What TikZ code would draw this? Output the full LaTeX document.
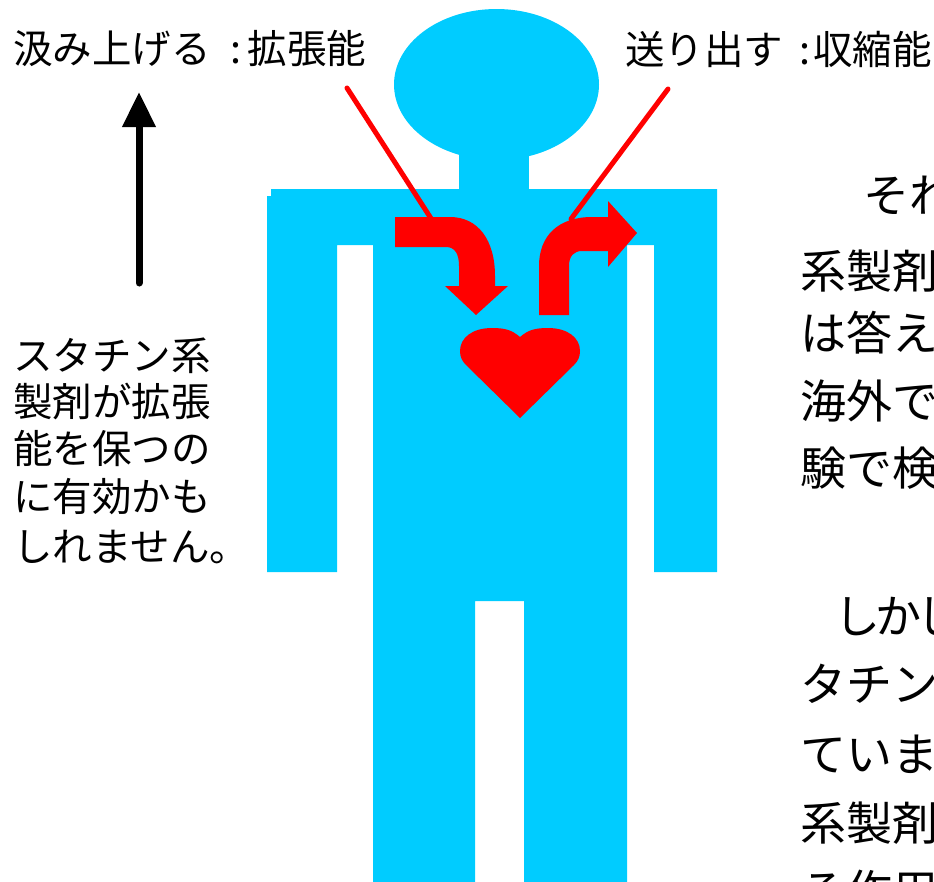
\documentclass[tikz,border=0pt]{standalone}
\usepackage{fontspec}
\newfontfamily\jpfont{Noto Sans CJK JP}
\usetikzlibrary{arrows.meta}
\definecolor{bodyblue}{HTML}{00CCFF}
\definecolor{heartred}{HTML}{FF0000}

\begin{document}
\begin{tikzpicture}[x=1pt,y=-1pt,
  caption/.style={anchor=base west, inner sep=0pt, text=black,
    font=\jpfont\fontsize{39.5}{40}\selectfont},
  note/.style={anchor=base west, inner sep=0pt, text=black,
    font=\jpfont\fontsize{46}{46}\selectfont},
  pointer/.style={draw=heartred, line width=5pt, line cap=round},
  silhouette/.style={fill=bodyblue},
  redshape/.style={fill=heartred}]
\useasboundingbox (0,0) rectangle (934,881);
\clip (0,0) rectangle (934,881);

% --- human silhouette ---
\fill[silhouette] (271,189) -- (717,189) -- (717,572) -- (654,572) -- (654,245)
  -- (627,245) -- (627,890) -- (524,890) -- (524,601) -- (475,601) -- (475,890)
  -- (373,890) -- (373,245) -- (337,245) -- (337,572) -- (267,572) -- (267,196)
  -- (271,196) -- cycle;
\fill[silhouette] (459,150) rectangle (529,192);
\fill[silhouette] (496.5,84.5) ellipse [x radius=102.5, y radius=75.5];

% --- pointer lines from the captions ---
\coordinate (expandFrom) at (347,88);
\coordinate (expandTo) at (432,220);
\coordinate (pumpFrom) at (668,89);
\coordinate (pumpTo) at (571,219);
\draw[pointer] (expandFrom) -- (expandTo);
\draw[pointer] (pumpFrom) -- (pumpTo);

% --- bent arrow into the heart ---
\fill[redshape] (395,217) -- (450,217) .. controls (478,217) and (495,240) .. (495,276)
  -- (495,286) -- (508,286) -- (476,315) -- (445,286) -- (459,286) -- (459,266)
  .. controls (459,254) and (455,247) .. (446,247) -- (395,247) -- cycle;

% --- bent arrow out of the heart ---
\fill[redshape] (539,315) -- (539,266) .. controls (539,236) and (558,217) .. (592,217)
  -- (608,217) -- (608,201) -- (637,233) -- (608,267) -- (608,251) -- (582,251)
  .. controls (574,251) and (569,256) .. (569,266) -- (569,315) -- cycle;

% --- heart ---
\fill[redshape] (520,337) .. controls (512,330) and (505,328) .. (492,328)
  .. controls (472,328) and (460,338) .. (460,351)
  .. controls (460,357) and (462,361) .. (466,365) -- (520,418) -- (574,365)
  .. controls (578,361) and (580,357) .. (580,351)
  .. controls (580,338) and (568,328) .. (548,328)
  .. controls (535,328) and (528,330) .. (520,337) -- cycle;

% --- upward arrow on the left ---
\coordinate (upFrom) at (139,283);
\coordinate (upTo) at (139,92);
\draw[line width=7pt, line cap=round, -{Triangle[length=35pt, width=32pt]}] (upFrom) -- (upTo);

% --- captions ---
\node[caption] (expandLabel) at (13,63) {汲み上げる\kern20pt:\kern6pt拡張能};
\node[caption] (pumpLabel) at (625,64) {送り出す\kern16pt:\kern3pt収縮能};

\node[caption] (statin1) at (13,370) {スタチン系};
\node[caption] (statin2) at (13,416) {製剤が拡張};
\node[caption] (statin3) at (13,463) {能を保つの};
\node[caption] (statin4) at (13,511) {に有効かも};
\node[caption] (statin5) at (13,561) {しれません。};

% --- body text on the right ---
\node[note] (para1a) at (863,212) {それ};
\node[note] (para1b) at (800,288) {系製剤};
\node[note] (para1c) at (800,350) {は答え};
\node[note] (para1d) at (800,418) {海外で};
\node[note] (para1e) at (800,485) {験で検};
\node[note] (para2a) at (834,633) {し\kern-5ptか\kern-5ptし};
\node[note] (para2b) at (800,701) {タチン};
\node[note] (para2c) at (800,771) {ていま};
\node[note] (para2d) at (800,840) {系製剤};
\node[note] (para2e) at (800,908) {る作用};
\end{tikzpicture}
\end{document}
